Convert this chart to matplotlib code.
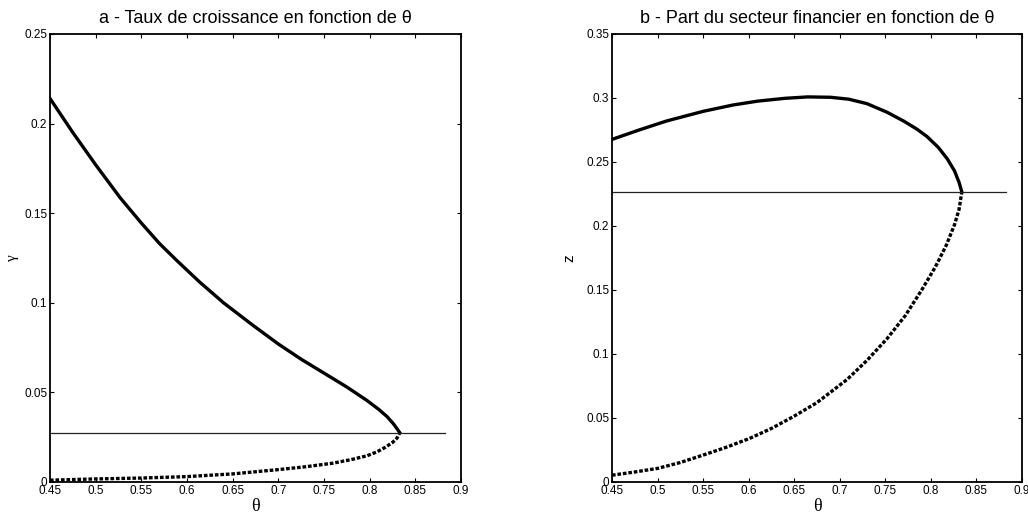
import matplotlib
matplotlib.use('Agg')
import matplotlib.pyplot as plt

# --- a : growth rate vs theta ---
theta_a_up = [0.45, 0.475, 0.50, 0.527, 0.55, 0.57, 0.589, 0.614, 0.64, 0.672, 0.70, 0.725,
              0.746, 0.775, 0.797, 0.81, 0.819, 0.826, 0.831, 0.833]
gamma_up = [0.214, 0.195, 0.177, 0.1585, 0.1445, 0.133, 0.1235, 0.1115, 0.100, 0.0875, 0.077, 0.0685,
            0.062, 0.053, 0.0455, 0.0405, 0.0365, 0.0325, 0.029, 0.0275]
theta_a_low = [0.45, 0.50, 0.55, 0.60, 0.65, 0.702, 0.73, 0.76, 0.78, 0.797, 0.808, 0.817, 0.825, 0.83, 0.833]
gamma_low = [0.001, 0.0017, 0.0022, 0.003, 0.0045, 0.007, 0.0085, 0.0105, 0.0125, 0.0146, 0.0168,
             0.0193, 0.022, 0.0245, 0.0275]
gamma_star = 0.0273

# --- b : financial sector share vs theta ---
theta_b_up = [0.45, 0.48, 0.51, 0.55, 0.583, 0.61, 0.64, 0.665, 0.69, 0.71, 0.73, 0.752, 0.77,
              0.785, 0.796, 0.808, 0.818, 0.826, 0.831, 0.834]
z_up = [0.2676, 0.275, 0.282, 0.2895, 0.2945, 0.2975, 0.2997, 0.3008, 0.3005, 0.299, 0.2955, 0.2888,
        0.282, 0.2755, 0.2697, 0.2615, 0.2525, 0.243, 0.234, 0.2266]
theta_b_low = [0.45, 0.475, 0.50, 0.525, 0.55, 0.575, 0.601, 0.625, 0.649, 0.675, 0.708, 0.73,
               0.752, 0.772, 0.79, 0.805, 0.817, 0.826, 0.831, 0.834]
z_low = [0.0053, 0.0078, 0.0106, 0.0152, 0.021, 0.027, 0.034, 0.0418, 0.051, 0.062, 0.080, 0.095,
         0.112, 0.130, 0.150, 0.168, 0.185, 0.201, 0.213, 0.2266]
z_star = 0.2266

theta_line = [0.45, 0.882]
theta_ticks = [0.45, 0.5, 0.55, 0.6, 0.65, 0.7, 0.75, 0.8, 0.85, 0.9]
theta_ticklabels = ['0.45', '0.5', '0.55', '0.6', '0.65', '0.7', '0.75', '0.8', '0.85', '0.9']

plt.rcParams['font.family'] = ['Liberation Sans', 'DejaVu Sans']

fig = plt.figure(figsize=(10.28, 5.21), dpi=100)
ax1 = fig.add_axes([0.0486, 0.0749, 0.3998, 0.86])
ax2 = fig.add_axes([0.5953, 0.0749, 0.3988, 0.86])

dash = (0, (1.1, 0.55))

def style(ax, yticks, ylabels, ymax):
    ax.set_xlim(0.45, 0.9)
    ax.set_ylim(0, ymax)
    ax.set_xticks(theta_ticks)
    ax.set_xticklabels(theta_ticklabels)
    ax.set_yticks(yticks)
    ax.set_yticklabels(ylabels)
    ax.tick_params(direction='in', length=3, width=0.8, labelsize=8.5, top=True, right=True, pad=2)
    for s in ax.spines.values():
        s.set_linewidth(1.3)
    ax.set_xlabel('θ', family='Liberation Serif', fontsize=13, labelpad=1)

ax1.plot(theta_a_up, gamma_up, color='black', lw=2.4, solid_joinstyle='round')
ax1.plot(theta_a_low, gamma_low, color='black', lw=2.4, linestyle=dash)
ax1.plot(theta_line, [gamma_star, gamma_star], color='#222222', lw=0.9)
style(ax1, [0, 0.05, 0.1, 0.15, 0.2, 0.25], ['0', '0.05', '0.1', '0.15', '0.2', '0.25'], 0.25)
ax1.set_ylabel('γ', family='Liberation Serif', fontsize=11, labelpad=4)
ax1.set_title('a - Taux de croissance en fonction de θ', fontsize=13, pad=8)

ax2.plot(theta_b_up, z_up, color='black', lw=2.4, solid_joinstyle='round')
ax2.plot(theta_b_low, z_low, color='black', lw=2.4, linestyle=dash)
ax2.plot(theta_line, [z_star, z_star], color='#222222', lw=0.9)
style(ax2, [0, 0.05, 0.1, 0.15, 0.2, 0.25, 0.3, 0.35],
      ['0', '0.05', '0.1', '0.15', '0.2', '0.25', '0.3', '0.35'], 0.35)
ax2.set_ylabel('z', fontsize=11, labelpad=7)
ax2.set_title('b - Part du secteur financier en fonction de θ', fontsize=13, pad=8)

fig.savefig('out.png', dpi=100)
